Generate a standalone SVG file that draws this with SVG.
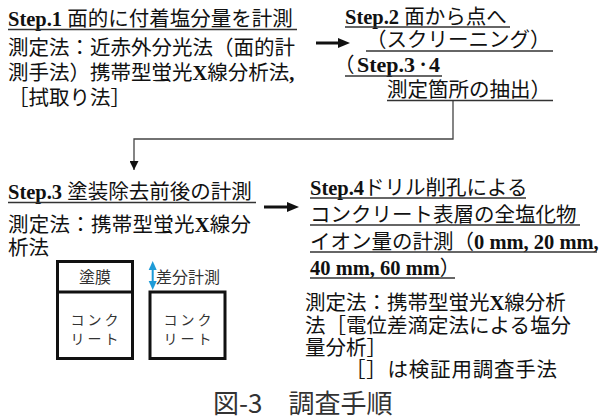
<svg xmlns="http://www.w3.org/2000/svg" width="599" height="419" viewBox="0 0 599 419">
<style>
.t{font-family:"Liberation Serif","Noto Sans CJK JP",serif;font-size:20.5px;fill:#111}
.b{font-weight:bold}
.ul{stroke:#333;stroke-width:1.6}
.box{fill:none;stroke:#111;stroke-width:3}
.g{font-family:"Noto Sans CJK JP","Liberation Sans",sans-serif;fill:#333}
.con{fill:none;stroke:#444;stroke-width:1.3}
.thick{fill:none;stroke:#111;stroke-width:3}
</style>
<defs>
<marker id="ah" viewBox="0 0 10 10" refX="10" refY="5" markerWidth="10" markerHeight="9" markerUnits="userSpaceOnUse" orient="auto"><path d="M0,0L10,5L0,10z" fill="#111"/></marker>
</defs>
<rect width="599" height="419" fill="#fff"/>
<g id="connectors">
<polyline class="con" points="453,100.5 453,139 134,139 134,170" marker-end="url(#ah)"/>
<line class="thick" x1="316" y1="43" x2="341" y2="43"/>
<path d="M338,38L350,43L338,48z" fill="#111"/>
<line class="thick" x1="264" y1="207" x2="290" y2="207"/>
<path d="M287,202L299,207L287,212z" fill="#111"/>
</g>
<g id="step1">
<text class="t" x="8" y="26"><tspan class="b">Step.1</tspan> 面的に付着塩分量を計測</text>
<line class="ul" x1="8" y1="29.5" x2="297" y2="29.5"/>
<text class="t" x="8" y="55">測定法：近赤外分光法（面的計</text>
<text class="t" x="8" y="80">測手法）携帯型蛍光<tspan class="b">X</tspan>線分析法<tspan class="b">,</tspan></text>
<text class="t" x="8" y="105">［拭取り法］</text>
</g>
<g id="step2">
<text class="t" x="345" y="23.5"><tspan class="b">Step.2</tspan> 面から点へ</text>
<line class="ul" x1="345" y1="27" x2="510" y2="27"/>
<text class="t" x="366" y="47">（スクリーニング）</text>
<line class="ul" x1="366" y1="51" x2="553" y2="51"/>
<text class="t" y="72"><tspan x="334">（</tspan><tspan class="b" x="357" font-size="22">Step.3</tspan><tspan x="418">･</tspan><tspan class="b" x="429" font-size="22">4</tspan></text>
<line class="ul" x1="345" y1="76" x2="442" y2="76"/>
<text class="t" x="387" y="96.5">測定箇所の抽出）</text>
<line class="ul" x1="387" y1="100.5" x2="553" y2="100.5"/>
</g>
<g id="step3">
<text class="t" x="8" y="199"><tspan class="b">Step.3</tspan> 塗装除去前後の計測</text>
<line class="ul" x1="8" y1="202.5" x2="256" y2="202.5"/>
<text class="t" x="8" y="232" textLength="243" lengthAdjust="spacing">測定法：携帯型蛍光<tspan class="b">X</tspan>線分</text>
<text class="t" x="8" y="255">析法</text>
</g>
<g id="boxes">
<rect class="box" x="57.5" y="261.5" width="75" height="97"/>
<line class="box" x1="57.5" y1="292" x2="132.5" y2="292"/>
<rect class="box" x="150" y="292" width="75" height="66.5"/>
<text class="g" x="95" y="283" font-size="16" text-anchor="middle">塗膜</text>
<text class="g" x="96" y="325" font-size="14" text-anchor="middle" letter-spacing="3">コンク</text>
<text class="g" x="96" y="344" font-size="14" text-anchor="middle" letter-spacing="3">リート</text>
<text class="g" x="189" y="325" font-size="14" text-anchor="middle" letter-spacing="3">コンク</text>
<text class="g" x="189" y="344" font-size="14" text-anchor="middle" letter-spacing="3">リート</text>
<line x1="152.7" y1="268" x2="152.7" y2="283" stroke="#1E9BD7" stroke-width="2"/>
<path d="M148.7,270L152.7,261L156.7,270z" fill="#1E9BD7"/>
<path d="M148.7,281L152.7,290L156.7,281z" fill="#1E9BD7"/>
<text class="g" x="156" y="283" font-size="16" fill="#333">差分計測</text>
</g>
<g id="step4">
<text class="t" x="310" y="194.5"><tspan class="b">Step.4</tspan>ドリル削孔による</text>
<line class="ul" x1="310" y1="198" x2="526" y2="198"/>
<text class="t" x="310" y="221.5">コンクリート表層の全塩化物</text>
<line class="ul" x1="310" y1="225" x2="580" y2="225"/>
<text class="t" x="310" y="248.5">イオン量の計測（<tspan class="b">0 mm, 20 mm,</tspan></text>
<line class="ul" x1="310" y1="252" x2="597" y2="252"/>
<text class="t" x="310" y="274.5"><tspan class="b">40 mm, 60 mm</tspan>）</text>
<line class="ul" x1="310" y1="278" x2="455" y2="278"/>
<text class="t" x="305" y="310">測定法：携帯型蛍光<tspan class="b">X</tspan>線分析</text>
<text class="t" x="305" y="333">法［電位差滴定法による塩分</text>
<text class="t" x="305" y="355">量分析］</text>
<text class="t" x="345" y="377" textLength="212" lengthAdjust="spacing">［］は検証用調査手法</text>
</g>
<g id="caption">
<text class="g" x="213" y="413" font-size="26" fill="#111">図-3　調査手順</text>
</g>
</svg>
